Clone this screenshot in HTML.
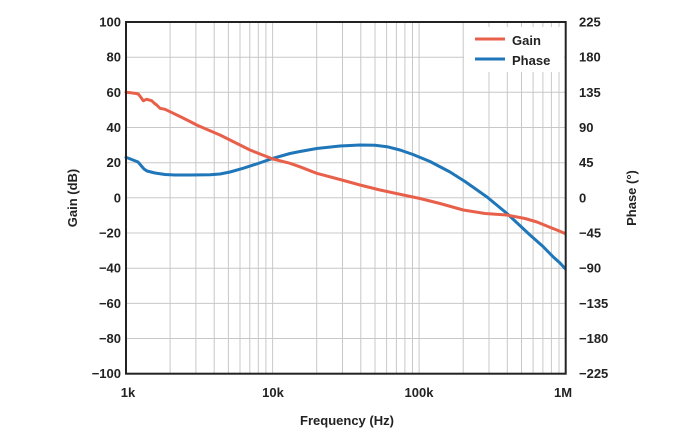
<!DOCTYPE html>
<html><head><meta charset="utf-8"><style>
html,body{margin:0;padding:0;background:#fff;}
svg{display:block;}
text{font-family:"Liberation Sans",sans-serif;font-weight:bold;fill:#222;font-size:13px;}
</style></head><body>
<svg width="688" height="436" viewBox="0 0 688 436" xmlns="http://www.w3.org/2000/svg">
<rect width="688" height="436" fill="#fff"/>
<g stroke="#c8c8c8" stroke-width="1">
<line x1="126" y1="57.2" x2="566" y2="57.2"/>
<line x1="126" y1="92.3" x2="566" y2="92.3"/>
<line x1="126" y1="127.5" x2="566" y2="127.5"/>
<line x1="126" y1="162.7" x2="566" y2="162.7"/>
<line x1="126" y1="197.8" x2="566" y2="197.8"/>
<line x1="126" y1="233" x2="566" y2="233"/>
<line x1="126" y1="268.2" x2="566" y2="268.2"/>
<line x1="126" y1="303.4" x2="566" y2="303.4"/>
<line x1="126" y1="338.5" x2="566" y2="338.5"/>
<g>
<line x1="170.1" y1="22" x2="170.1" y2="374"/>
<line x1="195.9" y1="22" x2="195.9" y2="374"/>
<line x1="214.2" y1="22" x2="214.2" y2="374"/>
<line x1="228.4" y1="22" x2="228.4" y2="374"/>
<line x1="240.0" y1="22" x2="240.0" y2="374"/>
<line x1="249.8" y1="22" x2="249.8" y2="374"/>
<line x1="258.3" y1="22" x2="258.3" y2="374"/>
<line x1="265.9" y1="22" x2="265.9" y2="374"/>
<line x1="272.6" y1="22" x2="272.6" y2="374"/>
<line x1="316.7" y1="22" x2="316.7" y2="374"/>
<line x1="342.5" y1="22" x2="342.5" y2="374"/>
<line x1="360.8" y1="22" x2="360.8" y2="374"/>
<line x1="375.0" y1="22" x2="375.0" y2="374"/>
<line x1="386.6" y1="22" x2="386.6" y2="374"/>
<line x1="396.4" y1="22" x2="396.4" y2="374"/>
<line x1="404.9" y1="22" x2="404.9" y2="374"/>
<line x1="412.5" y1="22" x2="412.5" y2="374"/>
<line x1="419.1" y1="22" x2="419.1" y2="374"/>
<line x1="463.2" y1="22" x2="463.2" y2="374"/>
<line x1="489.0" y1="22" x2="489.0" y2="374"/>
<line x1="507.3" y1="22" x2="507.3" y2="374"/>
<line x1="521.5" y1="22" x2="521.5" y2="374"/>
<line x1="533.1" y1="22" x2="533.1" y2="374"/>
<line x1="542.9" y1="22" x2="542.9" y2="374"/>
<line x1="551.4" y1="22" x2="551.4" y2="374"/>
<line x1="559.0" y1="22" x2="559.0" y2="374"/>
</g>
</g>
<!-- legend background -->
<rect x="464" y="27" width="100" height="45" fill="#fff"/>
<!-- curves -->
<polyline fill="none" stroke="#1f76b8" stroke-width="3" stroke-linejoin="round" stroke-linecap="round"
points="126,157.3 133,160 138,162 141,165.5 144,169 147,171 155,173 165,174.5 175,175 190,175 210,174.7 220,174 230,172 243,168.3 258,163.5 273,158.3 290,153.5 300,151.5 316.7,148.5 340,146 360,145 375,145.3 387,146.7 400,150 413,154.5 430,161.5 450,172 465,181.5 487,197 507,213.5 530,235 543,246.5 553,256.7 560,263 565,268.5"/>
<polyline fill="none" stroke="#e8604a" stroke-width="3" stroke-linejoin="round" stroke-linecap="round"
points="126,92.3 131,92.8 136,93.5 138.3,94 141,97.5 143.3,100.7 146.7,99.3 151.7,100.7 154,103 156.7,105 160,108.3 165,109.3 170,111.7 180,116.5 190,121.5 196.7,125 210,130.8 220,135 230,140 240,145 250,150 260,154 273,159 290,163.3 300,166.8 316.7,173.3 340,179.5 360,185 380,190 403.3,195 420,198.5 440,203.5 463.3,210 485,213.5 506.7,215 525,218.5 537,222 548,226.5 558,230.5 565,233.5"/>
<!-- frame -->
<rect x="126" y="22" width="439.7" height="351.7" fill="none" stroke="#222" stroke-width="2"/>
<!-- legend -->
<line x1="475" y1="39" x2="505" y2="39" stroke="#e8604a" stroke-width="3"/>
<line x1="475" y1="59" x2="505" y2="59" stroke="#1f76b8" stroke-width="3"/>
<text x="512" y="45">Gain</text>
<text x="512" y="65">Phase</text>
<!-- left ticks -->
<g text-anchor="end">
<text x="121" y="26.5">100</text>
<text x="121" y="61.7">80</text>
<text x="121" y="96.8">60</text>
<text x="121" y="132">40</text>
<text x="121" y="167.2">20</text>
<text x="121" y="202.3">0</text>
<text x="121" y="237.5">−20</text>
<text x="121" y="272.7">−40</text>
<text x="121" y="307.9">−60</text>
<text x="121" y="343">−80</text>
<text x="121" y="378.2">−100</text>
</g>
<!-- right ticks -->
<g text-anchor="start">
<text x="579" y="26.5">225</text>
<text x="579" y="61.7">180</text>
<text x="579" y="96.8">135</text>
<text x="579" y="132">90</text>
<text x="579" y="167.2">45</text>
<text x="579" y="202.3">0</text>
<text x="579" y="237.5">−45</text>
<text x="579" y="272.7">−90</text>
<text x="579" y="307.9">−135</text>
<text x="579" y="343">−180</text>
<text x="579" y="378.2">−225</text>
</g>
<!-- x ticks -->
<g text-anchor="middle">
<text x="128" y="397">1k</text>
<text x="273" y="397">10k</text>
<text x="419" y="397">100k</text>
<text x="563" y="397">1M</text>
<text x="347" y="425">Frequency (Hz)</text>
</g>
<text transform="translate(77,198) rotate(-90)" text-anchor="middle">Gain (dB)</text>
<text transform="translate(636,198) rotate(-90)" text-anchor="middle">Phase (°)</text>
</svg>
</body></html>
